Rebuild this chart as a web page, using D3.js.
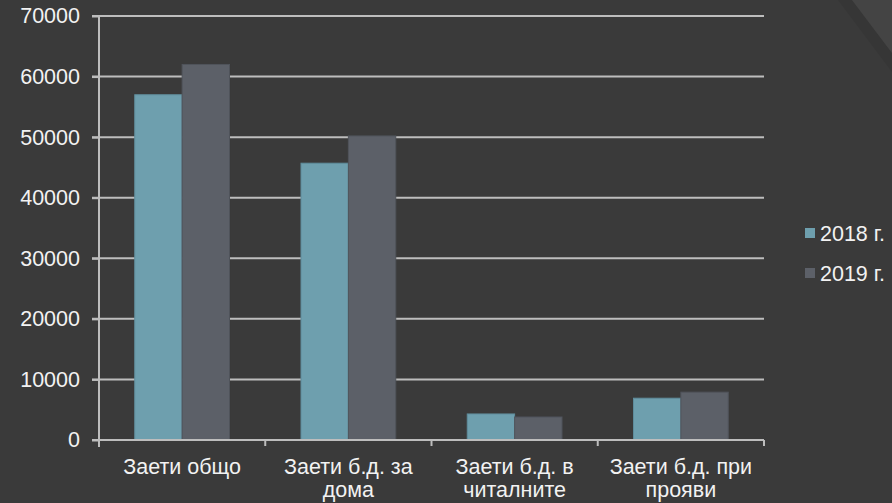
<!DOCTYPE html>
<html>
<head>
<meta charset="utf-8">
<script src="https://cdn.jsdelivr.net/npm/d3@7/dist/d3.min.js"></script>
<style>
html,body{margin:0;padding:0;background:#3a3a3a;}
svg{display:block;}
text{font-family:"Liberation Sans",Arial,sans-serif;fill:#f2f2f2;}
</style>
</head>
<body>
<svg id="chart" width="892" height="503"></svg>
<script>
const categories = ["Заети общо", "Заети б.д. за дома", "Заети б.д. в читалните", "Заети б.д. при прояви"];
const seriesNames = ["2018 г.", "2019 г."];
const values2018 = [57000, 45700, 4300, 6900];
const values2019 = [62000, 50200, 3800, 7900];
const yTicks = [0, 10000, 20000, 30000, 40000, 50000, 60000, 70000];
const colors = ["#6e9fae", "#5c6068"];

const W = 892, H = 503;
const FS = "21.5px";
const m = {left: 99, right: 128, top: 16, bottom: 63};
const svg = d3.select("#chart");

// background
svg.append("rect").attr("width", W).attr("height", H).attr("fill", "#3a3a3a");
// page curl in the top-right corner
svg.append("path").attr("d", "M838,0 L852,0 L892,53 L892,72 Z").attr("fill", "#333333").attr("opacity", 0.6);
svg.append("path").attr("d", "M852,0 L892,0 L892,53 Z").attr("fill", "#444444");

const x0 = d3.scaleBand().domain(categories).range([m.left, W - m.right]).paddingInner(0.43).paddingOuter(0.215);
const x1 = d3.scaleBand().domain(seriesNames).range([0, x0.bandwidth()]);
const y = d3.scaleLinear().domain([0, 70000]).range([H - m.bottom, m.top]);

const gridColor = "#bdbdbd";

// gridlines
svg.append("g").selectAll("line").data(yTicks.filter(d => d > 0)).join("line")
  .attr("x1", m.left - 7).attr("x2", W - m.right)
  .attr("y1", d => y(d)).attr("y2", d => y(d))
  .attr("stroke", gridColor).attr("stroke-width", 2);

// bars
const data = categories.map((c, i) => ({cat: c, vals: [values2018[i], values2019[i]]}));
const groups = svg.append("g").selectAll("g").data(data).join("g")
  .attr("transform", d => `translate(${x0(d.cat)},0)`);
groups.selectAll("rect").data(d => d.vals.map((v, j) => ({name: seriesNames[j], v, j}))).join("rect")
  .attr("x", d => x1(d.name))
  .attr("width", x1.bandwidth())
  .attr("y", d => y(d.v))
  .attr("height", d => y(0) - y(d.v))
  .attr("fill", d => colors[d.j])
  .attr("stroke", d => d.j === 0 ? "#5f8d9c" : "#50545b")
  .attr("stroke-width", 1);

// y axis
const yAxis = d3.axisLeft(y).tickValues(yTicks).tickSize(7).tickPadding(12).tickFormat(d3.format("d"));
const gy = svg.append("g").attr("transform", `translate(${m.left},0)`).call(yAxis);
gy.select(".domain").attr("stroke", gridColor).attr("stroke-width", 2).attr("d", `M0,${y(70000)}V${y(0) + 7}`);
gy.selectAll(".tick line").attr("stroke", gridColor).attr("stroke-width", 2);
gy.selectAll(".tick text").style("font-size", FS).attr("fill", "#f2f2f2")
  .style("font-family", "'Liberation Sans',Arial,sans-serif");

// x axis
const step = x0.step();
const boundaries = d3.range(categories.length + 1).map(i => m.left + i * step);
const gx = svg.append("g");
gx.append("line").attr("x1", m.left - 7).attr("x2", W - m.right).attr("y1", y(0)).attr("y2", y(0))
  .attr("stroke", gridColor).attr("stroke-width", 2);
gx.selectAll("line.t").data(boundaries).join("line").attr("class", "t")
  .attr("x1", d => d).attr("x2", d => d).attr("y1", y(0)).attr("y2", y(0) + 6)
  .attr("stroke", gridColor).attr("stroke-width", 2);

// category labels (wrapped)
function wrapWords(text, maxW) {
  const words = text.split(" ");
  const lines = []; let cur = "";
  const meas = svg.append("text").style("font-size", FS);
  words.forEach(w => {
    const t = cur ? cur + " " + w : w;
    meas.text(t);
    if (meas.node().getComputedTextLength() > maxW && cur) { lines.push(cur); cur = w; }
    else cur = t;
  });
  lines.push(cur);
  meas.remove();
  return lines;
}
categories.forEach((c, i) => {
  const cx = x0(c) + x0.bandwidth() / 2;
  const lines = wrapWords(c, step - 10);
  const t = svg.append("text").attr("text-anchor", "middle").style("font-size", FS);
  lines.forEach((l, k) => {
    t.append("tspan").attr("x", cx).attr("y", 474 + k * 23).text(l);
  });
});

// legend
const lg = svg.append("g").selectAll("g").data(seriesNames).join("g")
  .attr("transform", (d, i) => `translate(805,${228 + i * 40})`);
lg.append("rect").attr("width", 10).attr("height", 10).attr("fill", (d, i) => colors[i]);
lg.append("text").attr("x", 15).attr("y", 12.5).style("font-size", FS).text(d => d);
</script>
</body>
</html>
